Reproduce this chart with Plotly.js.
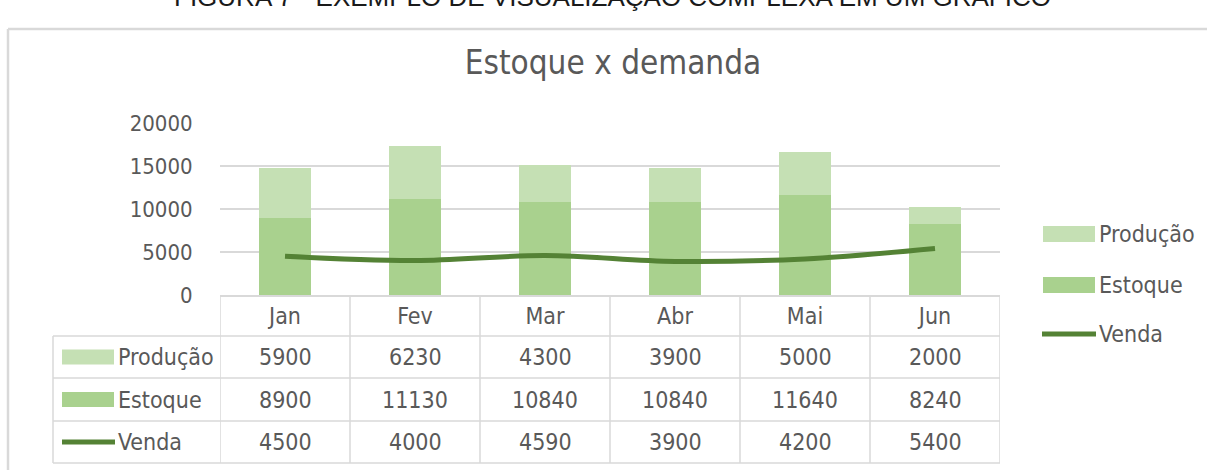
<!DOCTYPE html>
<html>
<head>
<meta charset="utf-8">
<script src="https://cdn.plot.ly/plotly-3.0.1.min.js"></script>
<style>html,body{margin:0;padding:0;background:#fff;}#chart{width:1207px;height:470px;}</style>
</head>
<body>
<div id="chart"></div>
<script>
// ---- data ----
const categories = ["Jan", "Fev", "Mar", "Abr", "Mai", "Jun"];
const producao = [5900, 6230, 4300, 3900, 5000, 2000];
const estoque = [8900, 11130, 10840, 10840, 11640, 8240];
const venda = [4500, 4000, 4590, 3900, 4200, 5400];
const seriesNames = ["Produção", "Estoque", "Venda"];
const yTicks = [0, 5000, 10000, 15000, 20000];
const titleText = "Estoque x demanda";
const captionText = "FIGURA 7 - EXEMPLO DE VISUALIZAÇÃO COMPLEXA EM UM GRÁFICO";

// ---- style ----
const FONT = '"Liberation Sans Narrow", "DejaVu Sans Condensed", "Liberation Sans", sans-serif';
const TXT = '#595959';
const GRID = '#d9d9d9';
const C_PROD = '#c5e0b4';
const C_EST = '#a9d18e';
const C_VEN = '#548235';

const W = 1207, Hh = 470;
const L = 220, R = 1000, T = 123, B = 295;
const PW = R - L, PH = B - T;
const px = x => (x - L) / PW;
const py = y => (B - y) / PH;

const traces = [
  {type: 'bar', name: seriesNames[1], x: categories, y: estoque, marker: {color: C_EST}, width: 0.4, showlegend: false, hoverinfo: 'none'},
  {type: 'bar', name: seriesNames[0], x: categories, y: producao, marker: {color: C_PROD}, width: 0.4, showlegend: false, hoverinfo: 'none'},
  {type: 'scatter', mode: 'lines', name: seriesNames[2], x: categories, y: venda, line: {color: C_VEN, width: 5, shape: 'spline', smoothing: 1}, showlegend: false, hoverinfo: 'none'}
];

const shapes = [];
const annotations = [];
const line = {color: GRID, width: 1.5};

// outer chart border
shapes.push({type: 'line', xref: 'paper', yref: 'paper', x0: px(8), x1: px(8), y0: py(29), y1: py(480), line: {color: GRID, width: 2.5}});
shapes.push({type: 'line', xref: 'paper', yref: 'paper', x0: px(8), x1: px(1210), y0: py(29), y1: py(29), line: {color: GRID, width: 2.5}});

// data table grid
const rowLines = [336, 378, 421, 463];
rowLines.forEach(y => shapes.push({type: 'line', xref: 'paper', yref: 'paper', x0: px(53), x1: px(1000), y0: py(y), y1: py(y), line}));
for (let i = 0; i <= categories.length; i++) {
  shapes.push({type: 'line', xref: 'x', yref: 'paper', x0: i - 0.5, x1: i - 0.5, y0: py(295), y1: py(463), line});
}
shapes.push({type: 'line', xref: 'paper', yref: 'paper', x0: px(53), x1: px(53), y0: py(336), y1: py(463), line});

// table rows
const rows = [
  {name: seriesNames[0], vals: producao, color: C_PROD, kind: 'bar', yc: 357},
  {name: seriesNames[1], vals: estoque, color: C_EST, kind: 'bar', yc: 399.5},
  {name: seriesNames[2], vals: venda, color: C_VEN, kind: 'line', yc: 442}
];
rows.forEach(r => {
  r.vals.forEach((v, i) => annotations.push({xref: 'x', yref: 'paper', x: i, y: py(r.yc), text: String(v), showarrow: false, xanchor: 'center', yanchor: 'middle', font: {family: FONT, size: 23, color: TXT}}));
  if (r.kind === 'bar') {
    shapes.push({type: 'rect', xref: 'paper', yref: 'paper', x0: px(62), x1: px(114), y0: py(r.yc - 7.5), y1: py(r.yc + 7.5), fillcolor: r.color, line: {width: 0}});
  } else {
    shapes.push({type: 'line', xref: 'paper', yref: 'paper', x0: px(62), x1: px(115), y0: py(r.yc), y1: py(r.yc), line: {color: r.color, width: 5}});
  }
  annotations.push({xref: 'paper', yref: 'paper', x: px(116), y: py(r.yc), text: r.name, showarrow: false, xanchor: 'left', yanchor: 'middle', font: {family: FONT, size: 23, color: TXT}});
});

// right legend
const legendItems = [
  {name: seriesNames[0], color: C_PROD, kind: 'bar', yc: 234},
  {name: seriesNames[1], color: C_EST, kind: 'bar', yc: 285},
  {name: seriesNames[2], color: C_VEN, kind: 'line', yc: 334}
];
legendItems.forEach(it => {
  if (it.kind === 'bar') {
    shapes.push({type: 'rect', xref: 'paper', yref: 'paper', x0: px(1043), x1: px(1095), y0: py(it.yc - 8), y1: py(it.yc + 8), fillcolor: it.color, line: {width: 0}});
  } else {
    shapes.push({type: 'line', xref: 'paper', yref: 'paper', x0: px(1042), x1: px(1096), y0: py(it.yc), y1: py(it.yc), line: {color: it.color, width: 5}});
  }
  annotations.push({xref: 'paper', yref: 'paper', x: px(1097), y: py(it.yc), text: it.name, showarrow: false, xanchor: 'left', yanchor: 'middle', font: {family: FONT, size: 23, color: TXT}});
});

// caption (cut off at top, as in the reference)
annotations.push({xref: 'paper', yref: 'paper', x: px(612), y: py(14), text: captionText, showarrow: false, xanchor: 'center', yanchor: 'bottom', font: {family: '"Liberation Sans", Arial, sans-serif', size: 26, color: '#1a1a1a'}});

const layout = {
  width: W, height: Hh,
  margin: {l: L, r: W - R, t: T, b: Hh - B, pad: 0},
  paper_bgcolor: '#ffffff', plot_bgcolor: '#ffffff',
  barmode: 'stack',
  title: {text: titleText, x: 613 / W, xanchor: 'center', y: 1 - 62 / Hh, yanchor: 'middle', font: {family: FONT, size: 33, color: TXT}},
  xaxis: {type: 'category', range: [-0.5, categories.length - 0.5], showgrid: false, showline: true, linecolor: GRID, linewidth: 1.5, ticks: '', tickfont: {family: FONT, size: 23, color: TXT}, fixedrange: true, zeroline: false},
  yaxis: {range: [0, 20000], tickvals: yTicks, tickformat: 'd', showgrid: true, gridcolor: GRID, gridwidth: 1.5, zeroline: false, showline: false, ticks: 'outside', ticklen: 22, tickcolor: 'rgba(0,0,0,0)', tickfont: {family: FONT, size: 22, color: TXT}, fixedrange: true},
  shapes, annotations,
  showlegend: false
};

Plotly.newPlot('chart', traces, layout, {staticPlot: true, displayModeBar: false});
</script>
</body>
</html>
